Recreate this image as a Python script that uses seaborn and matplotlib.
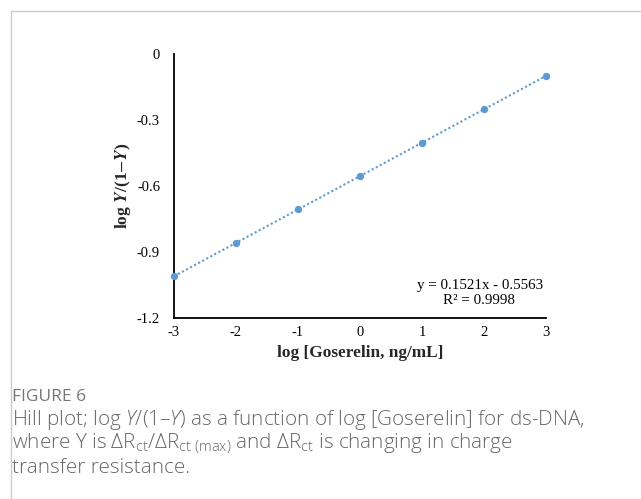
import matplotlib
matplotlib.use("Agg")
import matplotlib.pyplot as plt
from matplotlib.lines import Line2D
import seaborn as sns
import pandas as pd

log_conc = [-3, -2, -1, 0, 1, 2, 3]
log_ratio = [-1.01, -0.86, -0.705, -0.555, -0.405, -0.25, -0.10]
y_ticks = [0, -0.3, -0.6, -0.9, -1.2]
y_tick_labels = ["0", "-0.3", "-0.6", "-0.9", "-1.2"]
x_ticks = [-3, -2, -1, 0, 1, 2, 3]
equation = "y = 0.1521x - 0.5563"
r2 = "R² = 0.9998"

sns.set_theme(style="white")
plt.rcParams["font.family"] = ["Liberation Serif", "DejaVu Serif"]
plt.rcParams["mathtext.fontset"] = "custom"
plt.rcParams["mathtext.rm"] = "Open Sans:light"
plt.rcParams["mathtext.it"] = "Open Sans:italic:light"
plt.rcParams["mathtext.bf"] = "Open Sans:bold"

df = pd.DataFrame({"x": log_conc, "y": log_ratio})

fig = plt.figure(figsize=(6.41, 4.99), dpi=100)
ax = fig.add_axes([174/641, 1-318/499, (546-174)/641, (318-54)/499])

color = "#5b9bd5"
sns.regplot(data=df, x="x", y="y", ax=ax, ci=None, color=color,
            scatter_kws=dict(s=28, linewidths=0, alpha=1, zorder=3, clip_on=False),
            line_kws=dict(linestyle=(0, (1, 1.2)), linewidth=1.5))
for c in ax.collections:
    c.set_clip_on(False)

ax.set_xlim(-3, 3)
ax.set_ylim(-1.2, 0)
ax.set_yticks(y_ticks)
ax.set_yticklabels(y_tick_labels)
ax.set_xticks(x_ticks)
ax.set_xticklabels([str(v) for v in x_ticks])
for s in ["top", "right"]:
    ax.spines[s].set_visible(False)
for s in ["left", "bottom"]:
    ax.spines[s].set_color("black")
    ax.spines[s].set_linewidth(1.3)
ax.tick_params(axis="both", direction="out", length=4, width=1.3, color="black",
               labelsize=10.5, labelcolor="black", pad=2)
ax.tick_params(axis="y", pad=6)

ax.set_xlabel("log [Goserelin, ng/mL]", fontsize=12.4, fontweight="bold", labelpad=4)
ax.set_ylabel(r"log $\mathbfit{Y}$/(1$-$$\mathbfit{Y}$)", fontsize=12.6, fontweight="bold",
              labelpad=3)
ax.yaxis.label.set_math_fontfamily("stix")

ax.annotate(equation, xy=(543/641, 1-285/499), xycoords="figure fraction", fontsize=10.8,
            ha="right", va="center", color="black")
ax.annotate(r2, xy=(479/641, 1-301/499), xycoords="figure fraction", fontsize=10.8,
            ha="center", va="center", color="black")

# frame lines
fig.add_artist(Line2D([11/641, 11/641], [0, 1-11/499], transform=fig.transFigure,
                      color="#cccccc", linewidth=1.0))
fig.add_artist(Line2D([11/641, 1], [1-11/499, 1-11/499], transform=fig.transFigure,
                      color="#cccccc", linewidth=1.0))

cap_color = "#666666"
fig.text(12/641, 1-397/499, "FIGURE 6", fontsize=12.5, color="#777777",
         family=["Open Sans", "DejaVu Sans"], va="center", ha="left")
lines = [
    r"Hill plot; log $\mathit{Y}$/(1–$\mathit{Y}$) as a function of log [Goserelin] for ds-DNA,",
    r"where Y is ΔR$_{\mathrm{ct}}$/ΔR$_{\mathrm{ct\ (max)}}$ and ΔR$_{\mathrm{ct}}$ is changing in charge",
    "transfer resistance.",
]
for i, t in enumerate(lines):
    txt = fig.text(12/641, 1-(420+24*i)/499, t, fontsize=14.9, color=cap_color,
                   family=["Open Sans", "DejaVu Sans"], fontweight="light",
                   va="center", ha="left")
    txt.set_math_fontfamily("custom")

fig.savefig("out.png", dpi=100)
